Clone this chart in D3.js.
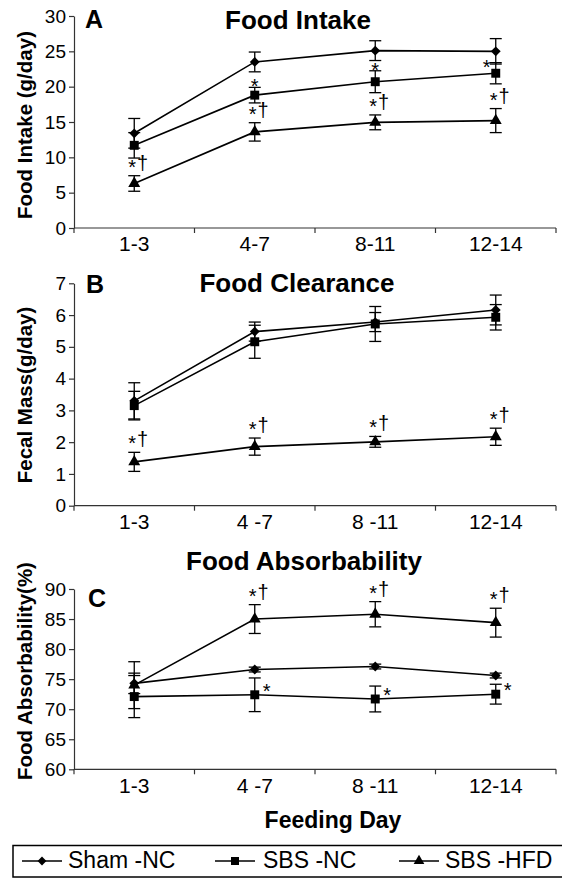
<!DOCTYPE html>
<html>
<head>
<meta charset="utf-8">
<script src="https://cdn.jsdelivr.net/npm/d3@7"></script>
<style>
  body { margin: 0; background: #fff; }
  svg { display: block; font-family: "Liberation Sans", Arial, sans-serif; }
</style>
</head>
<body>
<div id="chart"></div>
<script>
// feeding day groups
var days = ["1-3", "4-7", "8-11", "12-14"];
var dayLabelsA = ["1-3", "4-7", "8-11", "12-14"];
var dayLabelsBC = ["1-3", "4 -7", "8 -11", "12-14"];
var seriesNames = ["Sham -NC", "SBS -NC", "SBS -HFD"];

// A: food intake (g/day)
var intakeSham = [13.4, 23.5, 25.1, 25.0];
var intakeShamErr = [2.1, 1.4, 1.4, 1.8];
var intakeNC = [11.7, 18.8, 20.7, 21.9];
var intakeNCErr = [1.8, 1.1, 1.55, 1.5];
var intakeHFD = [6.3, 13.6, 14.95, 15.2];
var intakeHFDErr = [1.1, 1.3, 1.05, 1.7];
var intakeNCMarks = ["", "*", "*", "*"];
var intakeHFDMarks = ["*†", "*†", "*†", "*†"];

// B: food clearance, fecal mass (g/day)
var clearSham = [3.3, 5.48, 5.78, 6.16];
var clearShamErr = [0.57, 0.3, 0.3, 0.47];
var clearNC = [3.15, 5.16, 5.72, 5.93];
var clearNCErr = [0.45, 0.52, 0.55, 0.4];
var clearHFD = [1.38, 1.86, 2.01, 2.17];
var clearHFDErr = [0.3, 0.27, 0.17, 0.27];
var clearNCMarks = ["", "", "", ""];
var clearHFDMarks = ["*†", "*†", "*†", "*†"];

// C: food absorbability (%)
var absSham = [74.3, 76.6, 77.1, 75.6];
var absShamErr = [1.7, 0.4, 0.4, 0.4];
var absNC = [72.1, 72.4, 71.7, 72.5];
var absNCErr = [3.5, 2.8, 2.15, 1.65];
var absHFD = [74.0, 85.0, 85.8, 84.4];
var absHFDErr = [3.9, 2.4, 2.1, 2.4];
var absNCMarks = ["", "*", "*", "*"];
var absHFDMarks = ["", "*†", "*†", "*†"];

var width = 562, height = 879;
var left = 74, right = 556;

var svg = d3.select("#chart").append("svg")
    .attr("width", width)
    .attr("height", height);

var symbols = [d3.symbolDiamond2, d3.symbolSquare, d3.symbolTriangle];
var symbolSizes = [62, 80, 62];

var panels = [
  { letter: "A", title: "Food Intake", yTitle: "Food Intake (g/day)", yTitleY: 125,
    top: 16, bottom: 228, domain: [0, 30], ticks: d3.range(0, 31, 5),
    labels: dayLabelsA, labelY: 251, titleX: 298, titleY: 29, letterX: 85, letterY: 28,
    values: [intakeSham, intakeNC, intakeHFD], errs: [intakeShamErr, intakeNCErr, intakeHFDErr],
    ncMarks: intakeNCMarks, hfdMarks: intakeHFDMarks, ncPlace: ["above", "above", "above", "left"] },
  { letter: "B", title: "Food Clearance", yTitle: "Fecal Mass(g/day)", yTitleY: 395,
    top: 283.3, bottom: 505.7, domain: [0, 7], ticks: d3.range(0, 8, 1),
    labels: dayLabelsBC, labelY: 529, titleX: 297, titleY: 292, letterX: 86, letterY: 293,
    values: [clearSham, clearNC, clearHFD], errs: [clearShamErr, clearNCErr, clearHFDErr],
    ncMarks: clearNCMarks, hfdMarks: clearHFDMarks, ncPlace: ["above", "above", "above", "above"] },
  { letter: "C", title: "Food Absorbability", yTitle: "Food Absorbability(%)", yTitleY: 671,
    top: 589, bottom: 769.3, domain: [60, 90], ticks: d3.range(60, 91, 5),
    labels: dayLabelsBC, labelY: 793, titleX: 304, titleY: 570, letterX: 88, letterY: 607,
    values: [absSham, absNC, absHFD], errs: [absShamErr, absNCErr, absHFDErr],
    ncMarks: absNCMarks, hfdMarks: absHFDMarks, ncPlace: ["right", "right", "right", "right"] }
];

var x = d3.scaleBand().domain(days).range([left, right]);

panels.forEach(function(p) {
  var y = d3.scaleLinear().domain(p.domain).range([p.bottom, p.top]);
  var g = svg.append("g");

  // y axis
  var yAxis = g.append("g")
      .attr("transform", "translate(" + left + ",0)")
      .call(d3.axisLeft(y).tickValues(p.ticks).tickFormat(d3.format("d"))
        .tickSize(5).tickSizeOuter(0).tickPadding(3));
  yAxis.selectAll("text").attr("font-size", 19).attr("fill", "#000")
      .attr("font-family", "Liberation Sans, Arial, sans-serif");
  yAxis.selectAll("line, path").attr("stroke", "#333").attr("stroke-width", 1.2);

  // x axis: line with ticks at group boundaries
  g.append("line")
      .attr("x1", left).attr("x2", right)
      .attr("y1", p.bottom).attr("y2", p.bottom)
      .attr("stroke", "#333").attr("stroke-width", 1.2);
  var bounds = days.map(function(d) { return x(d); }).concat([right]);
  g.selectAll(".xt").data(bounds).enter().append("line")
      .attr("x1", function(d) { return d; }).attr("x2", function(d) { return d; })
      .attr("y1", p.bottom).attr("y2", p.bottom + 5)
      .attr("stroke", "#333").attr("stroke-width", 1.2);
  g.selectAll(".xl").data(days).enter().append("text")
      .attr("x", function(d) { return x(d) + x.bandwidth() / 2; })
      .attr("y", p.labelY)
      .attr("text-anchor", "middle")
      .attr("font-size", 21)
      .text(function(d, i) { return p.labels[i]; });

  // titles
  g.append("text").attr("x", p.titleX).attr("y", p.titleY)
      .attr("text-anchor", "middle").attr("font-size", 26).attr("font-weight", "bold")
      .text(p.title);
  g.append("text").attr("x", p.letterX).attr("y", p.letterY)
      .attr("font-size", 25).attr("font-weight", "bold")
      .text(p.letter);
  g.append("text")
      .attr("transform", "translate(32," + p.yTitleY + ") rotate(-90)")
      .attr("text-anchor", "middle").attr("font-size", 20.5).attr("font-weight", "bold")
      .text(p.yTitle);

  var cx = function(i) { return x(days[i]) + x.bandwidth() / 2; };

  p.values.forEach(function(vals, s) {
    var errs = p.errs[s];
    var sg = g.append("g");
    var line = d3.line()
        .x(function(d, i) { return cx(i); })
        .y(function(d) { return y(d); });
    sg.append("path").datum(vals)
        .attr("d", line).attr("fill", "none")
        .attr("stroke", "#000").attr("stroke-width", 1.6);
    // error bars
    var eb = sg.selectAll(".eb").data(vals).enter().append("g");
    eb.append("line")
        .attr("x1", function(d, i) { return cx(i); }).attr("x2", function(d, i) { return cx(i); })
        .attr("y1", function(d, i) { return y(d - errs[i]); })
        .attr("y2", function(d, i) { return y(d + errs[i]); })
        .attr("stroke", "#000").attr("stroke-width", 1.3);
    [-1, 1].forEach(function(sign) {
      eb.append("line")
          .attr("x1", function(d, i) { return cx(i) - 6; }).attr("x2", function(d, i) { return cx(i) + 6; })
          .attr("y1", function(d, i) { return y(d + sign * errs[i]); })
          .attr("y2", function(d, i) { return y(d + sign * errs[i]); })
          .attr("stroke", "#000").attr("stroke-width", 1.3);
    });
    sg.selectAll(".pt").data(vals).enter().append("path")
        .attr("d", d3.symbol().type(symbols[s]).size(symbolSizes[s]))
        .attr("transform", function(d, i) { return "translate(" + cx(i) + "," + y(d) + ")"; })
        .attr("fill", "#000");
  });

  // significance marks
  var nc = p.values[1], ncErr = p.errs[1];
  p.ncMarks.forEach(function(m, i) {
    if (!m) return;
    var cap = y(nc[i] + ncErr[i]);
    var px, py;
    if (p.ncPlace[i] === "above") { px = cx(i); py = cap - 5; }
    else if (p.ncPlace[i] === "left") { px = cx(i) - 9; py = cap; }
    else { px = cx(i) + 12; py = y(nc[i]) - 8; }
    g.append("text").attr("x", px).attr("y", py + 11)
        .attr("text-anchor", "middle").attr("font-size", 20)
        .text(m);
  });
  var hfd = p.values[2], hfdErr = p.errs[2];
  p.hfdMarks.forEach(function(m, i) {
    if (!m) return;
    var cap = y(hfd[i] + hfdErr[i]);
    var t = g.append("text").attr("x", cx(i) - 6).attr("y", cap - 6)
        .attr("font-size", 20);
    t.append("tspan").attr("dy", 4).text(m.charAt(0));
    t.append("tspan").attr("dy", -4).attr("dx", 1).text(m.slice(1));
  });
});

// x axis title
svg.append("text").attr("x", 333).attr("y", 828)
    .attr("text-anchor", "middle").attr("font-size", 23).attr("font-weight", "bold")
    .text("Feeding Day");

// legend
var legend = svg.append("g");
legend.append("rect").attr("x", 13).attr("y", 845.5).attr("width", 552).attr("height", 31.5)
    .attr("fill", "none").attr("stroke", "#000").attr("stroke-width", 1.5);
var legendX = [22, 215, 399];
var legendTextX = [68, 263, 445];
seriesNames.forEach(function(name, s) {
  var lx = legendX[s];
  legend.append("line").attr("x1", lx).attr("x2", lx + 40)
      .attr("y1", 861).attr("y2", 861)
      .attr("stroke", "#000").attr("stroke-width", 1.6);
  legend.append("path")
      .attr("d", d3.symbol().type(symbols[s]).size(symbolSizes[s] * 0.8))
      .attr("transform", "translate(" + (lx + 20) + ",861)")
      .attr("fill", "#000");
  legend.append("text").attr("x", legendTextX[s]).attr("y", 868)
      .attr("font-size", 23)
      .text(name);
});
</script>
</body>
</html>
